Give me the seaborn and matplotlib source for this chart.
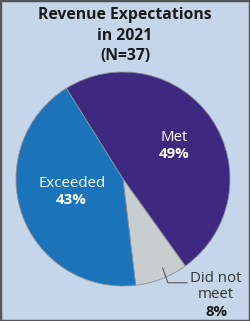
import matplotlib
matplotlib.use("Agg")
import matplotlib.pyplot as plt
import seaborn as sns
from matplotlib.patches import Rectangle

categories = ["Met", "Did not meet", "Exceeded"]
values = [49, 8, 43]
colors = ["#3d2a80", "#c8cdd0", "#1b74b9"]
title = "Revenue Expectations\nin 2021\n(N=37)"

sns.set_style("white")
plt.rcParams['font.family'] = ['Open Sans', 'DejaVu Sans']

bg = "#c6d6ea"
fig = plt.figure(figsize=(2.5, 3.21), dpi=100, facecolor=bg)
ax = fig.add_axes([16/250, 35/321, 214/250, 214/321])
ax.set_facecolor(bg)

wedges, _ = ax.pie(values, colors=colors, startangle=122, counterclock=False,
                   wedgeprops=dict(edgecolor="#8a8f99", linewidth=0.6))
ax.set_xlim(-1, 1)
ax.set_ylim(-1, 1)
ax.axis("off")

fig.text(0.5, 1 - 7/321, title, ha="center", va="top", fontsize=11.3,
         fontweight="bold", color="#1a1a1a", linespacing=1.38)

fs = 10.8
ax.text(0.48, 0.39, "Met", ha="center", va="center", color="white", fontsize=fs)
ax.text(0.48, 0.23, "49%", ha="center", va="center", color="white", fontsize=fs, fontweight="bold")
ax.text(-0.48, -0.04, "Exceeded", ha="center", va="center", color="white", fontsize=fs)
ax.text(-0.48, -0.20, "43%", ha="center", va="center", color="white", fontsize=fs, fontweight="bold")

ax.text(0.87, -0.93, "Did not", ha="center", va="center", color="#333333", fontsize=fs, clip_on=False)
ax.text(0.87, -1.08, "meet", ha="center", va="center", color="#333333", fontsize=fs, clip_on=False)
ax.text(0.87, -1.24, "8%", ha="center", va="center", color="#1a1a1a", fontsize=fs, fontweight="bold", clip_on=False)
ax.plot([0.37, 0.42, 0.60], [-0.83, -0.97, -0.97], color="#555555", lw=0.8, clip_on=False)

fig.patches.append(Rectangle((0, 0), 1, 1, transform=fig.transFigure, fill=False,
                             edgecolor="#555555", linewidth=2.5))

fig.savefig("out.png", dpi=100, facecolor=bg)
